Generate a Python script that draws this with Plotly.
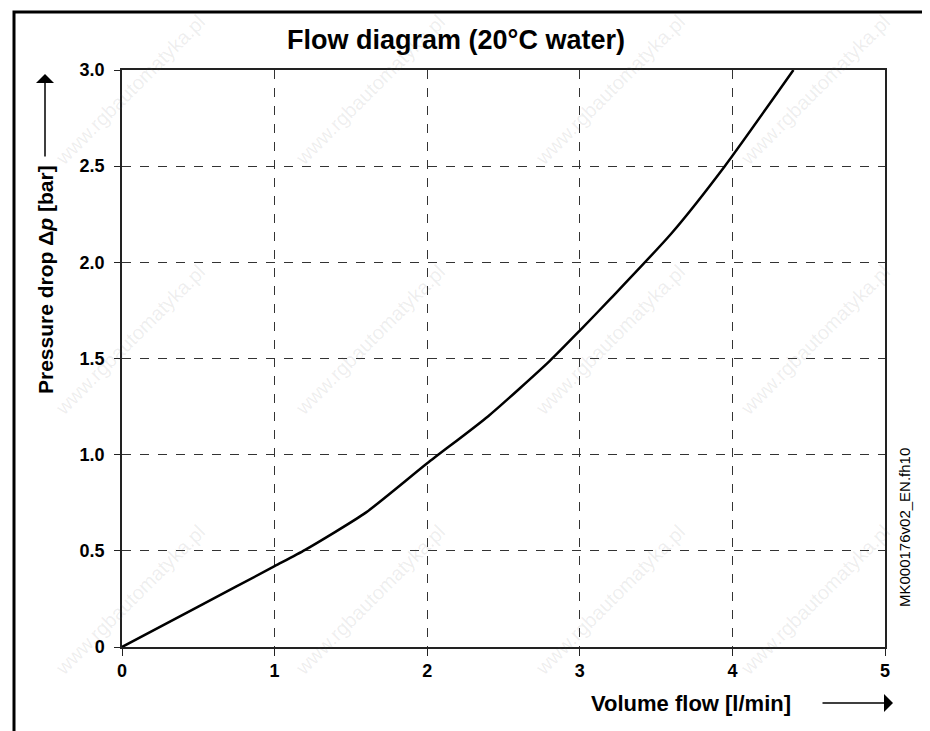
import plotly.graph_objects as go

# Curve (volume flow in l/min -> pressure drop in bar)
flow_lpm = [0, 0.5, 1.0, 1.2, 1.6, 2.0, 2.4, 2.8, 3.0, 3.2, 3.6, 3.95, 4.4]
dp_bar = [0, 0.21, 0.42, 0.505, 0.70, 0.955, 1.2, 1.485, 1.645, 1.81, 2.15, 2.5, 3.0]

x_ticks = [0, 1, 2, 3, 4, 5]
y_ticks = [0, 0.5, 1.0, 1.5, 2.0, 2.5, 3.0]
y_ticktext = ["0", "0.5", "1.0", "1.5", "2.0", "2.5", "3.0"]

# the page body keeps an 8px margin, so the figure starts at (8, 8)
OFF = 8
W, H = 930 - OFF, 731 - OFF
L, R, T, B = 122 - OFF, 45, 70 - OFF, 84
PW, PH = W - L - R, H - T - B


def px(x):
    """screen pixel x -> paper x"""
    return (x - OFF - L) / PW


def py(y):
    """screen pixel y (from top) -> paper y"""
    return (H - B - (y - OFF)) / PH


FONT = "Liberation Sans, Arial, sans-serif"

fig = go.Figure()
fig.add_trace(go.Scatter(
    x=flow_lpm, y=dp_bar, mode="lines",
    line=dict(color="black", width=2.5, shape="spline", smoothing=0.6),
    hoverinfo="skip", showlegend=False,
))

axis_common = dict(
    showline=True, linecolor="#222", linewidth=1.5, mirror=True,
    showgrid=True, gridcolor="#333", gridwidth=1, griddash="dash",
    zeroline=False, ticks="outside", tickcolor="#222",
    tickfont=dict(family=FONT, size=18, color="black", weight="bold"),
)
fig.update_xaxes(range=[0, 5], tickvals=x_ticks, ticklen=7, **axis_common)
fig.update_yaxes(range=[0, 3], tickvals=y_ticks, ticktext=y_ticktext,
                 ticklen=6, ticklabelstandoff=6, **axis_common)

centered = dict(xref="paper", yref="paper", xanchor="center", yanchor="middle")

annotations = [
    # y-axis title + arrow
    dict(x=px(45), y=py(280), text="Pressure drop Δ<i>p</i> [bar]",
         textangle=-90, showarrow=False,
         font=dict(family=FONT, size=21, color="black", weight="bold"),
         **centered),
    dict(x=px(45), y=py(74), text="", showarrow=True, ax=0, ay=84,
         arrowhead=1, arrowsize=2, arrowwidth=1.5, arrowcolor="black",
         **centered),
    # x-axis title + arrow
    dict(x=px(691), y=py(703), text="Volume flow [l/min]", showarrow=False,
         font=dict(family=FONT, size=22, color="black", weight="bold"),
         **centered),
    dict(x=px(893), y=py(703), text="", showarrow=True, ax=-72, ay=0,
         arrowhead=1, arrowsize=2, arrowwidth=1.5, arrowcolor="black",
         **centered),
    # drawing reference
    dict(x=px(904), y=py(528), text="MK000176v02_EN.fh10", textangle=-90,
         showarrow=False, font=dict(family=FONT, size=15, color="black"),
         **centered),
]

# faint watermark
for cx in [130, 370, 610, 815]:
    for cy in [90, 340, 600]:
        annotations.append(dict(
            x=px(cx), y=py(cy), text="www.rgbautomatyka.pl", textangle=-45,
            showarrow=False,
            font=dict(family=FONT, size=20, color="rgba(90,90,90,0.10)"),
            **centered,
        ))

fig.update_layout(
    width=W, height=H,
    margin=dict(l=L, r=R, t=T, b=B),
    plot_bgcolor="white", paper_bgcolor="white",
    title=dict(text="<b>Flow diagram (20°C water)</b>",
               x=(456 - OFF) / W, xref="container", xanchor="center",
               y=1 - (40 - OFF) / H, yref="container", yanchor="middle",
               font=dict(family=FONT, size=27, color="black")),
    annotations=annotations,
    shapes=[dict(type="rect", xref="paper", yref="paper",
                 x0=px(14), x1=px(925), y0=py(745), y1=py(12),
                 line=dict(color="black", width=3), layer="below")],
    showlegend=False,
)

fig.write_html("out.html")
